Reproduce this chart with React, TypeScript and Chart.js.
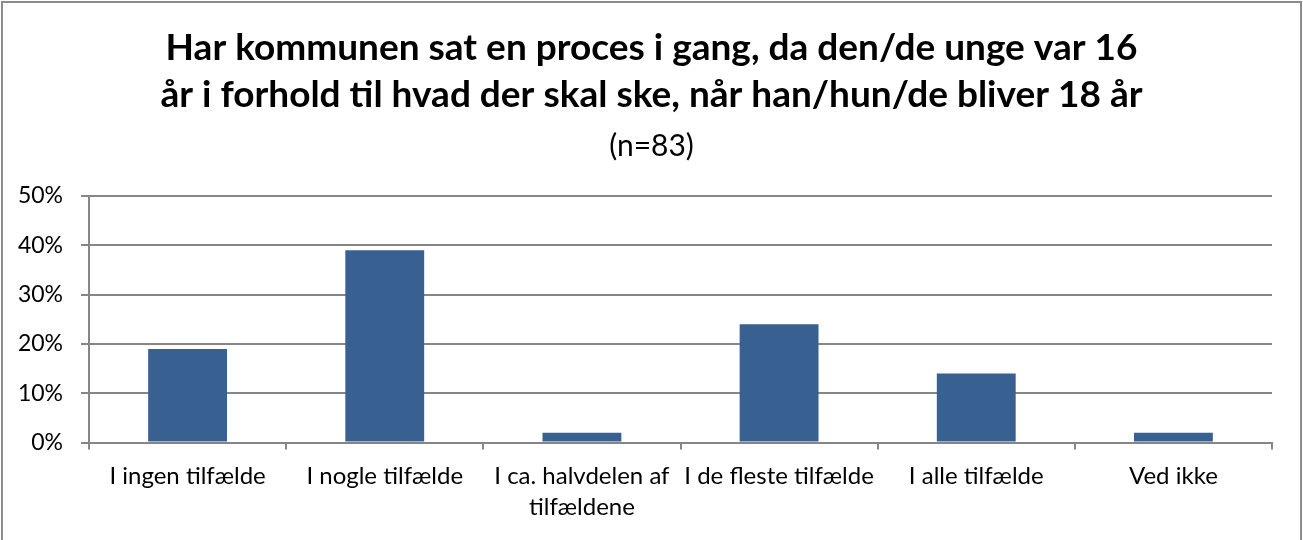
import React, { useEffect, useRef } from "react";
import { Chart, registerables } from "chart.js";

Chart.register(...registerables);

const titleLines = [
  "Har kommunen sat en proces i gang, da den/de unge var 16",
  "år i forhold til hvad der skal ske, når han/hun/de bliver 18 år",
];
const subtitleText = "(n=83)";
const categories: (string | string[])[] = [
  "I ingen tilfælde",
  "I nogle tilfælde",
  ["I ca. halvdelen af", "tilfældene"],
  "I de fleste tilfælde",
  "I alle tilfælde",
  "Ved ikke",
];
const values = [19, 39, 2, 24, 14, 2];
const yTicks = [0, 10, 20, 30, 40, 50];

const FONT = "Lato, 'Open Sans', sans-serif";

const borderPlugin = {
  id: "outerBorder",
  afterDraw(chart: any) {
    const ctx = chart.ctx;
    ctx.save();
    ctx.strokeStyle = "#8c8c8c";
    ctx.lineWidth = 2;
    ctx.strokeRect(2, 2, chart.width - 4, chart.height + 20);
    ctx.restore();
  },
};

export default function App() {
  const ref = useRef<HTMLCanvasElement>(null);
  useEffect(() => {
    if (!ref.current) return;
    const chart = new Chart(ref.current, {
      type: "bar",
      data: {
        labels: categories,
        datasets: [
          {
            data: values,
            backgroundColor: "#386192",
            borderWidth: 0,
            barPercentage: 0.4,
            categoryPercentage: 1,
          },
        ],
      },
      plugins: [borderPlugin],
      options: {
        animation: false,
        responsive: false,
        maintainAspectRatio: false,
        layout: { padding: { left: 17, right: 17, top: 25, bottom: 6 } },
        plugins: {
          legend: { display: false },
          tooltip: { enabled: false },
          title: {
            display: true,
            text: titleLines,
            color: "#000",
            font: { family: FONT, size: 37, weight: "bold", lineHeight: 1.27 },
            padding: { top: 0, bottom: 0 },
          },
          subtitle: {
            display: true,
            text: subtitleText,
            color: "#000",
            font: { family: FONT, size: 30, lineHeight: 1.2 },
            padding: { top: 9, bottom: 32 },
          },
        },
        scales: {
          x: {
            grid: {
              offset: true,
              drawOnChartArea: false,
              drawTicks: true,
              tickLength: 7,
              color: "#868686",
              lineWidth: 2,
            },
            border: { display: true, color: "#868686", width: 2 },
            ticks: {
              color: "#000",
              font: { family: FONT, size: 24, lineHeight: 1.3 },
              maxRotation: 0,
              autoSkip: false,
              padding: 11,
            },
          },
          y: {
            min: 0,
            max: 50,
            afterBuildTicks(axis: any) {
              axis.ticks = yTicks.map((v) => ({ value: v }));
            },
            afterFit(axis: any) {
              axis.width = 72;
            },
            grid: {
              color: "#868686",
              lineWidth: 2,
              tickLength: 8,
            },
            border: { display: true, color: "#868686", width: 2 },
            ticks: {
              color: "#000",
              font: { family: FONT, size: 23 },
              padding: 18,
              callback: (v: any) => v + "%",
            },
          },
          yRight: {
            type: "linear",
            position: "right",
            display: true,
            grid: { display: false },
            border: { display: false },
            ticks: { display: false },
            afterFit(axis: any) {
              axis.width = 14;
            },
          },
        },
      },
    });
    return () => chart.destroy();
  }, []);
  return (
    <div style={{ position: "absolute", left: 0, top: 0, width: 1303, height: 540, background: "#fff" }}>
      <canvas ref={ref} width={1303} height={540} style={{ display: "block" }} />
    </div>
  );
}
